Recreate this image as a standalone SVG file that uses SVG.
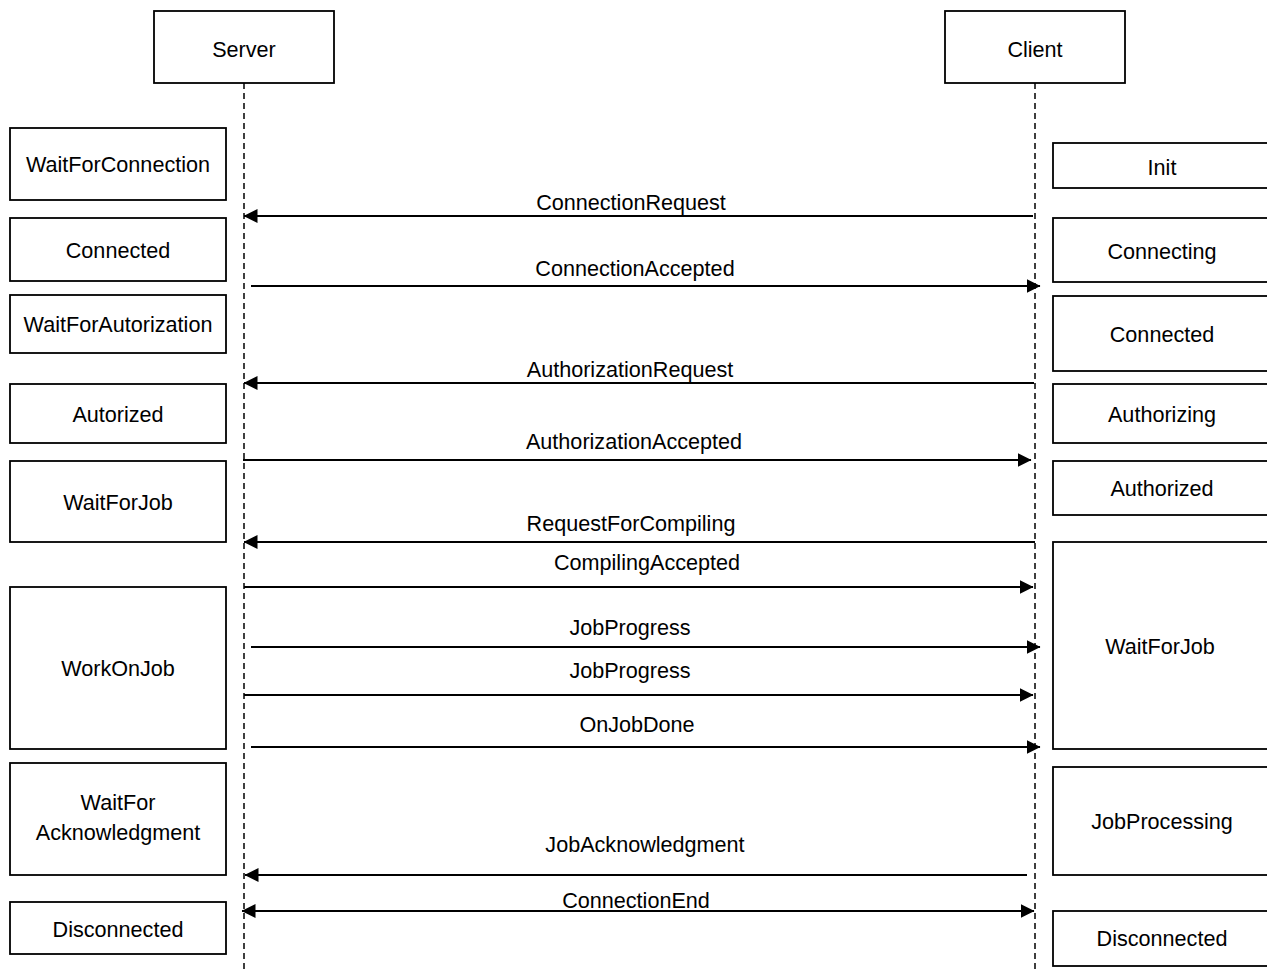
<svg xmlns="http://www.w3.org/2000/svg" width="1267" height="971" viewBox="0 0 1267 971">
<style>
.box{fill:#fff;stroke:#000;stroke-width:1.8}
.life{stroke:#000;stroke-width:1.5;stroke-dasharray:6 4;fill:none}
.msg{stroke:#000;stroke-width:1.8;fill:none}
text{font-family:"Liberation Sans",Arial,sans-serif;font-size:21.6px;fill:#000;text-anchor:middle}
</style>
<defs>
<marker id="arr" viewBox="0 0 14 14" refX="13.5" refY="7" markerWidth="14" markerHeight="14" markerUnits="userSpaceOnUse" orient="auto-start-reverse">
<path d="M0,0 L14,7 L0,14 Z" fill="#000"/>
</marker>
</defs>
<rect width="1267" height="971" fill="#fff"/>
<g id="lifelines">
<line class="life" x1="244" y1="83" x2="244" y2="971"/>
<line class="life" x1="1035" y1="83" x2="1035" y2="971"/>
</g>
<g id="server"><rect class="box" x="154" y="11" width="180" height="72"/><text x="244" y="57">Server</text></g>
<g id="client"><rect class="box" x="945" y="11" width="180" height="72"/><text x="1035" y="57">Client</text></g>

<g id="s-waitforconnection"><rect class="box" x="10" y="128" width="216" height="72"/><text x="118" y="172">WaitForConnection</text></g>
<g id="s-connected"><rect class="box" x="10" y="218" width="216" height="63"/><text x="118" y="258">Connected</text></g>
<g id="s-waitforautorization"><rect class="box" x="10" y="295" width="216" height="58"/><text x="118" y="332">WaitForAutorization</text></g>
<g id="s-autorized"><rect class="box" x="10" y="384" width="216" height="59"/><text x="118" y="422">Autorized</text></g>
<g id="s-waitforjob"><rect class="box" x="10" y="461" width="216" height="81"/><text x="118" y="510">WaitForJob</text></g>
<g id="s-workonjob"><rect class="box" x="10" y="587" width="216" height="162"/><text x="118" y="676">WorkOnJob</text></g>
<g id="s-waitforack"><rect class="box" x="10" y="763" width="216" height="112"/><text x="118" y="810">WaitFor</text><text x="118" y="840">Acknowledgment</text></g>
<g id="s-disconnected"><rect class="box" x="10" y="902" width="216" height="52"/><text x="118" y="937">Disconnected</text></g>

<g id="c-init"><rect class="box" x="1053" y="143" width="218" height="45"/><text x="1162" y="175">Init</text></g>
<g id="c-connecting"><rect class="box" x="1053" y="218" width="218" height="64"/><text x="1162" y="259">Connecting</text></g>
<g id="c-connected"><rect class="box" x="1053" y="296" width="218" height="75"/><text x="1162" y="342">Connected</text></g>
<g id="c-authorizing"><rect class="box" x="1053" y="384" width="218" height="59"/><text x="1162" y="422">Authorizing</text></g>
<g id="c-authorized"><rect class="box" x="1053" y="461" width="218" height="54"/><text x="1162" y="496">Authorized</text></g>
<g id="c-waitforjob"><rect class="box" x="1053" y="542" width="218" height="207"/><text x="1160" y="654">WaitForJob</text></g>
<g id="c-jobprocessing"><rect class="box" x="1053" y="767" width="218" height="108"/><text x="1162" y="829">JobProcessing</text></g>
<g id="c-disconnected"><rect class="box" x="1053" y="911" width="218" height="55"/><text x="1162" y="946">Disconnected</text></g>

<g id="connectors">
<line class="msg" x1="1033" y1="216" x2="244" y2="216" marker-end="url(#arr)"/>
<text x="631" y="210">ConnectionRequest</text>
<line class="msg" x1="251" y1="286" x2="1040" y2="286" marker-end="url(#arr)"/>
<text x="635" y="276">ConnectionAccepted</text>
<line class="msg" x1="1034" y1="383" x2="244" y2="383" marker-end="url(#arr)"/>
<text x="630" y="377">AuthorizationRequest</text>
<line class="msg" x1="243" y1="460" x2="1031" y2="460" marker-end="url(#arr)"/>
<text x="634" y="449">AuthorizationAccepted</text>
<line class="msg" x1="1035" y1="542" x2="244" y2="542" marker-end="url(#arr)"/>
<text x="631" y="531">RequestForCompiling</text>
<line class="msg" x1="244" y1="587" x2="1033" y2="587" marker-end="url(#arr)"/>
<text x="647" y="570">CompilingAccepted</text>
<line class="msg" x1="251" y1="647" x2="1040" y2="647" marker-end="url(#arr)"/>
<text x="630" y="635">JobProgress</text>
<line class="msg" x1="244" y1="695" x2="1033" y2="695" marker-end="url(#arr)"/>
<text x="630" y="678">JobProgress</text>
<line class="msg" x1="251" y1="747" x2="1040" y2="747" marker-end="url(#arr)"/>
<text x="637" y="732">OnJobDone</text>
<line class="msg" x1="1027" y1="875" x2="245" y2="875" marker-end="url(#arr)"/>
<text x="645" y="852">JobAcknowledgment</text>
<line class="msg" x1="242" y1="911" x2="1034" y2="911" marker-start="url(#arr)" marker-end="url(#arr)"/>
<text x="636" y="908">ConnectionEnd</text>
</g>
</svg>
